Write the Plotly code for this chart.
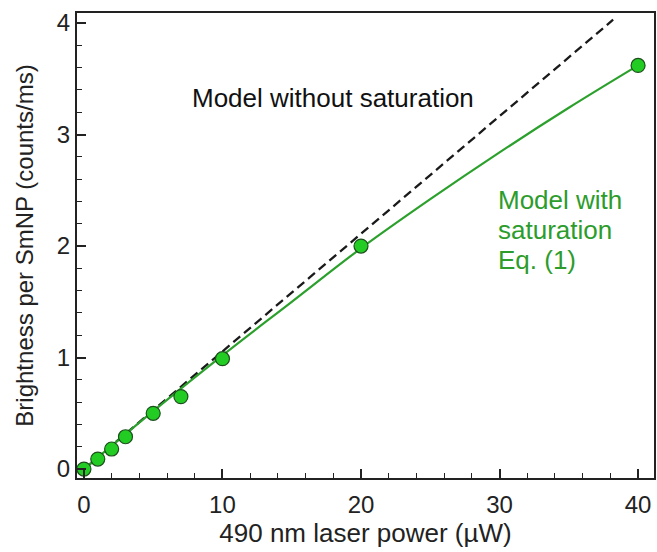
import plotly.graph_objects as go

# Measured data
power = [0, 1, 2, 3, 5, 7, 10, 20, 40]
brightness = [0.0, 0.09, 0.18, 0.29, 0.50, 0.65, 0.99, 2.0, 3.62]

# Model without saturation
lin_x = [0, 38.2]
lin_y = [0, 4.03]

# Model with saturation
sat_x = [0, 5, 10, 15, 20, 25, 30, 35, 40]
sat_y = [0, 0.52, 1.02, 1.50, 1.98, 2.42, 2.84, 3.24, 3.62]

# Annotation texts
label_linear = "Model without saturation"
label_sat = ["Model with", "saturation", "Eq. (1)"]

FONT = "Liberation Sans, Arial, sans-serif"
GREEN_LINE = "#2ca02c"
GREEN_TEXT = "#2c9c2c"
INK = "#222222"

fig = go.Figure()
fig.add_trace(go.Scatter(x=lin_x, y=lin_y, mode="lines",
                         line=dict(color="#1a1a1a", width=2.3, dash="9px,5px"),
                         showlegend=False, hoverinfo="skip"))
fig.add_trace(go.Scatter(x=sat_x, y=sat_y, mode="lines",
                         line=dict(color=GREEN_LINE, width=2.2, shape="spline"),
                         showlegend=False, hoverinfo="skip"))
fig.add_trace(go.Scatter(x=power, y=brightness, mode="markers",
                         marker=dict(size=14, color="#22cc22",
                                     line=dict(color="#1d4f1d", width=1.2)),
                         showlegend=False))

fig.add_annotation(xref="x", yref="y", x=17.95, y=3.33, text=label_linear,
                   showarrow=False, font=dict(family=FONT, size=26, color="#111111"),
                   xanchor="center", yanchor="middle")
for txt, yy in zip(label_sat, [2.413, 2.143, 1.874]):
    fig.add_annotation(xref="x", yref="y", x=29.78, y=yy, text=txt,
                       showarrow=False, align="left",
                       font=dict(family=FONT, size=26, color=GREEN_TEXT),
                       xanchor="left", yanchor="middle")

axis_common = dict(showline=True, linecolor=INK, linewidth=2, mirror=True,
                   ticks="inside", ticklen=9, tickwidth=1.5, tickcolor=INK,
                   showgrid=False, zeroline=False,
                   tickfont=dict(family=FONT, size=24, color=INK))

fig.update_xaxes(range=[-0.5, 41.15], tickvals=[0, 10, 20, 30, 40],
                 ticklabelstandoff=4,
                 minor=dict(dtick=2, tick0=0, ticks="inside", ticklen=5,
                            tickwidth=1.3, tickcolor=INK),
                 title=dict(text="490 nm laser power (µW)",
                            font=dict(family=FONT, size=26, color=INK),
                            standoff=6),
                 **axis_common)
fig.update_yaxes(range=[-0.08, 4.09], tickvals=[0, 1, 2, 3, 4],
                 minor=dict(dtick=0.2, tick0=0, ticks="inside", ticklen=5,
                            tickwidth=1.3, tickcolor=INK),
                 title=dict(text="Brightness per SmNP (counts/ms)",
                            font=dict(family=FONT, size=24, color=INK),
                            standoff=16),
                 **axis_common)

fig.update_layout(width=657, height=552,
                  margin=dict(l=77, r=1, t=13, b=74),
                  plot_bgcolor="white", paper_bgcolor="white")

fig.write_html("out.html", config={"displayModeBar": False},
               post_script="document.body.style.margin='0';document.body.style.overflow='hidden';")
